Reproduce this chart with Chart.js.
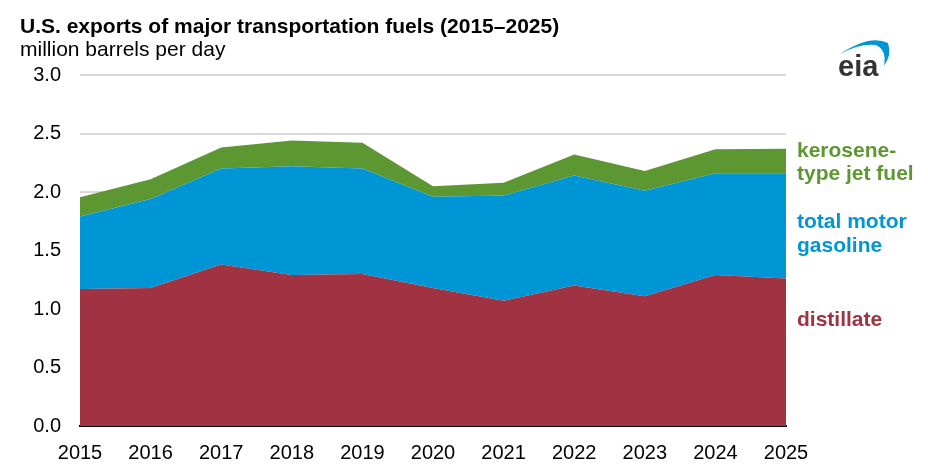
<!DOCTYPE html>
<html>
<head>
<meta charset="utf-8">
<script src="https://cdn.jsdelivr.net/npm/chart.js@4/dist/chart.umd.min.js"></script>
<style>
  body { margin: 0; background: #fff; }
  #wrap { width: 928px; height: 473px; position: relative; }
</style>
</head>
<body>
<div id="wrap"><canvas id="fuelChart"></canvas></div>
<script>
const years = ["2015", "2016", "2017", "2018", "2019", "2020", "2021", "2022", "2023", "2024", "2025"];
const distillate = [1.17, 1.18, 1.38, 1.29, 1.30, 1.18, 1.07, 1.20, 1.11, 1.29, 1.26];
const gasoline = [0.62, 0.76, 0.82, 0.93, 0.90, 0.78, 0.90, 0.94, 0.90, 0.87, 0.90];
const jetFuel = [0.165, 0.17, 0.18, 0.22, 0.22, 0.09, 0.11, 0.18, 0.17, 0.205, 0.21];
const yTicks = [0, 0.5, 1.0, 1.5, 2.0, 2.5, 3.0];

const RED = "#a03241";
const BLUE = "#0096d6";
const GREEN = "#5d9732";
const FONT = "'Liberation Sans', Arial, sans-serif";

// title, unit, series labels and logo
const textPlugin = {
  id: "textPlugin",
  afterDraw(chart) {
    const ctx = chart.ctx;
    ctx.save();
    ctx.textBaseline = "middle";
    ctx.textAlign = "left";
    ctx.fillStyle = "#000";
    ctx.font = "bold 21px " + FONT;
    ctx.fillText("U.S. exports of major transportation fuels (2015\u20132025)", 20, 27);
    ctx.font = "21px " + FONT;
    ctx.fillText("million barrels per day", 20, 50);

    ctx.font = "bold 21px " + FONT;
    ctx.fillStyle = GREEN;
    ctx.fillText("kerosene-", 797, 151);
    ctx.fillText("type jet fuel", 797, 174);
    ctx.fillStyle = BLUE;
    ctx.fillText("total motor", 797, 222);
    ctx.fillText("gasoline", 797, 246);
    ctx.fillStyle = RED;
    ctx.fillText("distillate", 797, 320);

    // eia logo
    ctx.fillStyle = "#333";
    ctx.font = "bold 29px " + FONT;
    ctx.fillText("eia", 838, 68);
    ctx.fillStyle = BLUE;
    ctx.beginPath();
    ctx.moveTo(840, 54);
    ctx.quadraticCurveTo(870, 34, 888, 43);
    ctx.quadraticCurveTo(892, 55, 884, 66);
    ctx.quadraticCurveTo(887, 50, 876, 45);
    ctx.quadraticCurveTo(860, 43, 840, 54);
    ctx.fill();
    ctx.restore();
  }
};

const config = {
  type: "line",
  data: {
    labels: years,
    datasets: [
      {
        label: "distillate",
        data: distillate,
        backgroundColor: RED,
        borderWidth: 0,
        pointRadius: 0,
        fill: "origin",
      },
      {
        label: "total motor gasoline",
        data: gasoline,
        backgroundColor: BLUE,
        borderWidth: 0,
        pointRadius: 0,
        fill: "-1",
      },
      {
        label: "kerosene-type jet fuel",
        data: jetFuel,
        backgroundColor: GREEN,
        borderWidth: 0,
        pointRadius: 0,
        fill: "-1",
      },
    ],
  },
  options: {
    responsive: true,
    maintainAspectRatio: false,
    animation: false,
    layout: { padding: { top: 75, right: 142, left: 0, bottom: 0 } },
    plugins: {
      legend: { display: false },
      title: { display: false },
      tooltip: { enabled: false },
    },
    scales: {
      x: {
        offset: false,
        grid: { display: false },
        border: { display: true, color: "#000", width: 2 },
        ticks: {
          color: "#000",
          font: { family: FONT, size: 20 },
          padding: 7,
          maxRotation: 0,
          autoSkip: false,
        },
        afterFit(scale) {
          scale.height = 47;
        },
      },
      y: {
        stacked: true,
        min: 0,
        max: 3,
        afterBuildTicks(scale) {
          scale.ticks = yTicks.map((v) => ({ value: v }));
        },
        grid: {
          color: (c) => (c.tick && c.tick.value === 0 ? "rgba(0,0,0,0)" : "#d9d9d9"),
          lineWidth: 2,
          drawTicks: false,
        },
        border: { display: false },
        ticks: {
          color: "#000",
          font: { family: FONT, size: 20 },
          padding: 19,
          callback: (v) => Number(v).toFixed(1),
        },
        afterFit(scale) {
          scale.width = 80;
        },
      },
    },
  },
  plugins: [textPlugin],
};

const myChart = new Chart(document.getElementById("fuelChart"), config);
</script>
</body>
</html>
